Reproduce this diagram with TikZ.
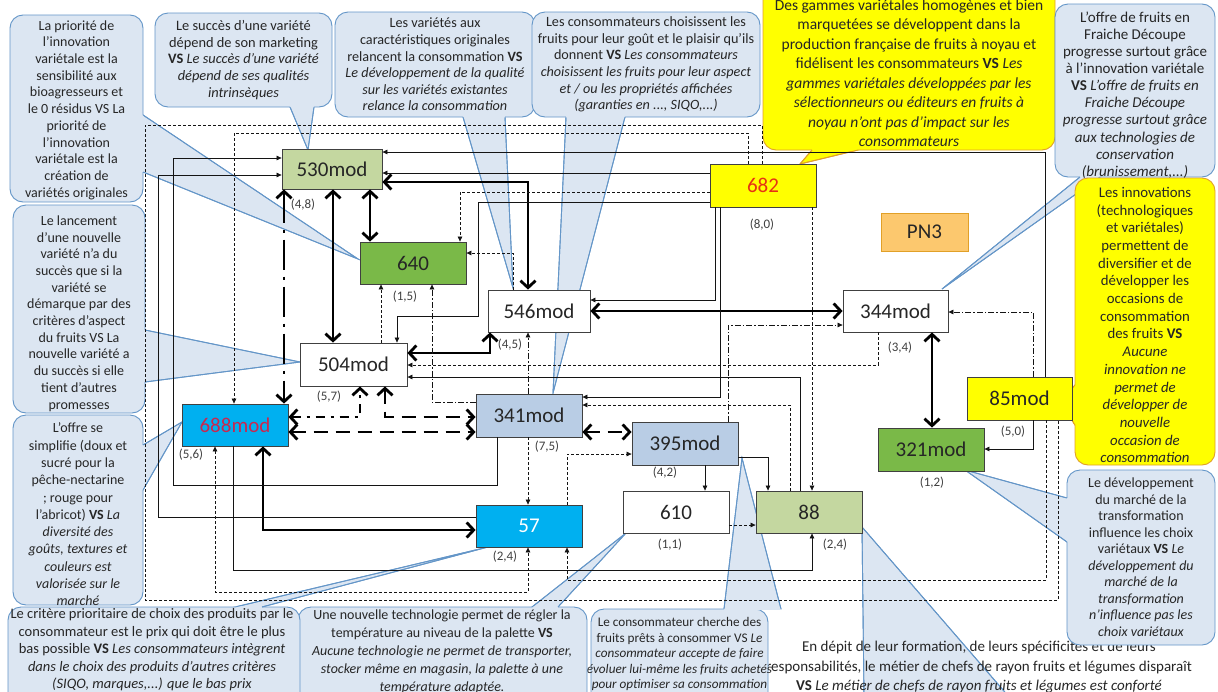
\documentclass[tikz,border=0pt]{standalone}
\usepackage{fontspec}
\setmainfont{Carlito}
\usetikzlibrary{arrows.meta}
\definecolor{cfill}{RGB}{220,230,242}
\definecolor{cline}{RGB}{100,150,200}
\definecolor{yfill}{RGB}{255,255,0}
\definecolor{yline}{RGB}{225,160,40}
\definecolor{lgreen}{RGB}{196,215,160}
\definecolor{dgreen}{RGB}{122,185,72}
\definecolor{cyanb}{RGB}{0,176,240}
\definecolor{lblue}{RGB}{185,205,229}
\definecolor{pnfill}{RGB}{252,200,110}
\definecolor{txt}{RGB}{38,38,38}
\definecolor{lab}{RGB}{64,64,64}
\definecolor{lnc}{RGB}{20,20,20}
\definecolor{crim}{RGB}{200,40,80}
\definecolor{redtxt}{RGB}{230,50,20}
\newcommand\fsz[2]{\fontsize{#1pt}{#2pt}\selectfont}
\tikzset{
  cbl/.style={fill=cfill,draw=cline,line width=0.9pt},
  cyl/.style={fill=yfill,draw=yline,line width=0.9pt},
  ctext/.style={align=center,text=txt,inner sep=0pt},
  box/.style={draw=black!75,line width=0.8pt,minimum width=106pt,minimum height=42pt,
    inner sep=0pt,font=\fsz{21}{24},text=txt},
  lbl/.style={text=lab,font=\fsz{13}{15},inner sep=0pt},
  thin/.style={draw=lnc,line width=0.75pt},
  tarr/.style={-{Triangle[length=5pt,width=4.5pt]}},
  tarr2/.style={{Triangle[length=5pt,width=4.5pt]}-{Triangle[length=5pt,width=4.5pt]}},
  dsh/.style={dash pattern=on 3pt off 2pt},
  dsd/.style={dash pattern=on 6pt off 2pt on 1.5pt off 2pt},
  thk/.style={draw=black,line width=2.8pt,
    {Straight Barb[length=7pt,width=15pt]}-{Straight Barb[length=7pt,width=15pt]}},
}
% callout boxes: style, box corners (x1,y1) (x2,y2), wedge base from #6 to #7, wedge tip (#8,#9)
\newcommand\coB[9]{%
  \fill[#1] (#6,#5) -- (#8,#9) -- (#7,#5) -- cycle;
  \draw[#1,rounded corners=13pt] (#2,#3) rectangle (#4,#5);
  \fill[#1,draw=none] (#6,#5-1) rectangle (#7,#5+0.6);
  \draw[#1,fill=none] (#6,#5) -- (#8,#9) -- (#7,#5);}
\newcommand\coT[9]{%
  \fill[#1] (#6,#3) -- (#8,#9) -- (#7,#3) -- cycle;
  \draw[#1,rounded corners=13pt] (#2,#3) rectangle (#4,#5);
  \fill[#1,draw=none] (#6,#3-0.6) rectangle (#7,#3+1);
  \draw[#1,fill=none] (#6,#3) -- (#8,#9) -- (#7,#3);}
\newcommand\coL[9]{%
  \fill[#1] (#2,#6) -- (#8,#9) -- (#2,#7) -- cycle;
  \draw[#1,rounded corners=13pt] (#2,#3) rectangle (#4,#5);
  \fill[#1,draw=none] (#2-0.6,#6) rectangle (#2+1,#7);
  \draw[#1,fill=none] (#2,#6) -- (#8,#9) -- (#2,#7);}
\newcommand\coR[9]{%
  \fill[#1] (#4,#6) -- (#8,#9) -- (#4,#7) -- cycle;
  \draw[#1,rounded corners=13pt] (#2,#3) rectangle (#4,#5);
  \fill[#1,draw=none] (#4-1,#6) rectangle (#4+0.6,#7);
  \draw[#1,fill=none] (#4,#6) -- (#8,#9) -- (#4,#7);}
\begin{document}
\begin{tikzpicture}[x=1pt,y=-1pt]
\useasboundingbox (0,0) rectangle (1218,691);
\begin{scope}
\clip (0,0) rectangle (1218,691);
\fill[white] (0,0) rectangle (1218,691);

% ---------- callouts ----------
% the box of this one sits below the page; only its pointer and text show
\coT{cbl}{700}{698}{1240}{760}{864}{1010}{862}{527}
\node[ctext,font=\fsz{15}{19.5}] (t9) at (979,667.5) {En dépit de leur formation, de leurs spécificités et de leurs\\
responsabilités, le métier de chefs de rayon fruits et légumes disparaît\\
\textbf{VS} \textit{Le métier de chefs de rayon fruits et légumes est conforté}};

\coR{cbl}{10}{15}{143}{202}{115}{172}{358}{259}
\node[ctext,font=\fsz{14}{16.7}] (t1) at (76.5,110) {La priorité de\\l'innovation\\variétale est la\\sensibilité aux\\bioagresseurs et\\le 0 résidus VS La\\priorité de\\l'innovation\\variétale est la\\création de\\variétés originales};

\coB{cbl}{155}{13}{332}{107}{290}{314}{308}{150}
\node[ctext,font=\fsz{14.4}{16.6}] (t2) at (243.5,60) {Le succès d'une variété\\dépend de son marketing\\\textbf{VS} \textit{Le succès d'une variété}\\\textit{dépend de ses qualités}\\\textit{intrinsèques}};

\coB{cbl}{335}{12}{535}{117}{463}{505}{513}{288}
\node[ctext,font=\fsz{14.2}{16.6}] (t3) at (435,64.5) {Les variétés aux\\caractéristiques originales\\relancent la consommation \textbf{VS}\\\textit{Le développement de la qualité}\\\textit{sur les  variétés existantes}\\\textit{relance la consommation}};

\coB{cbl}{532}{12}{760}{117}{566}{625}{553}{393}
\node[ctext,font=\fsz{14.2}{16.6}] (t4) at (646,64.5) {Les consommateurs choisissent les\\fruits pour leur goût et le plaisir qu'ils\\donnent \textbf{VS} \textit{Les consommateurs}\\\textit{choisissent les fruits pour leur aspect}\\\textit{et / ou les propriétés affichées}\\\textit{(garanties en ..., SIQO,...)}};

\coB{cyl}{763}{-15}{1055}{150}{812}{858}{800}{164}
\node[ctext,font=\fsz{15.5}{19.5}] (t5) at (909,73) {Des gammes variétales homogènes et bien\\marquetées  se développent dans la\\production  française de fruits à noyau et\\fidélisent les consommateurs \textbf{VS} \textit{Les}\\\textit{gammes variétales développées par les}\\\textit{sélectionneurs ou éditeurs en fruits à}\\\textit{noyau n'ont pas d'impact sur les}\\\textit{consommateurs}};

\coB{cbl}{1055}{4}{1215}{177}{1080}{1100}{942}{289}
\node[ctext,font=\fsz{15}{17.1}] (t6) at (1135,95) {L'offre de fruits en\\Fraiche Découpe\\progresse surtout grâce\\à l'innovation variétale\\\textbf{VS} \textit{L'offre de fruits en}\\\textit{Fraiche Découpe}\\\textit{progresse surtout grâce}\\\textit{aux technologies de}\\\textit{conservation}\\\textit{(brunissement,...)}};

\coL{cyl}{1075}{178}{1215}{465}{385}{425}{1060}{402}
\node[ctext,font=\fsz{14.8}{17.7}] (t7) at (1145,325) {Les innovations\\(technologiques\\et variétales)\\permettent  de\\diversifier et de\\développer  les\\occasions de\\consommation\\des fruits \textbf{VS}\\\textit{Aucune}\\\textit{innovation ne}\\\textit{permet de}\\\textit{développer de}\\\textit{nouvelle}\\\textit{occasion de}\\\textit{consommation}};

\coL{cbl}{1067}{470}{1215}{645}{498}{542}{965}{470}
\node[ctext,font=\fsz{14}{16.5}] (t8) at (1141,557) {Le développement\\du marché de la\\transformation\\influence les choix\\variétaux \textbf{VS} \textit{Le}\\\textit{développement du}\\\textit{marché de la}\\\textit{transformation}\\\textit{n'influence pas les}\\\textit{choix variétaux}};

\coT{cbl}{591}{609}{768}{720}{724}{781}{742}{458}
\node[ctext,font=\fsz{13.2}{15.5}] (t10) at (679.5,654) {Le consommateur cherche des\\fruits prêts à consommer VS \textit{Le}\\\textit{consommateur accepte de faire}\\\textit{évoluer lui-même les fruits achetés}\\\textit{pour optimiser sa consommation}};

\coT{cbl}{298}{607}{587}{710}{532}{558}{626}{533}
\node[ctext,font=\fsz{14}{18}] (t11) at (442,652) {Une nouvelle technologie permet de régler la\\température au niveau de la palette \textbf{VS}\\\textit{Aucune technologie ne permet de transporter,}\\\textit{stocker même en magasin, la palette à une}\\\textit{température adaptée.}};

\coT{cbl}{8}{607}{300}{710}{235}{262}{488}{547}
\node[ctext,font=\fsz{14.5}{17.5}] (t12) at (152,650) {Le critère prioritaire de choix des produits par le\\consommateur est le prix qui doit être le plus\\bas possible \textbf{VS} \textit{Les consommateurs intègrent}\\\textit{dans le choix des produits d’autres critères}\\\textit{(SIQO, marques,...) que le bas prix}};

\coR{cbl}{13}{415}{143}{605}{445}{490}{182}{422}
\node[ctext,font=\fsz{14}{17.3}] (t13) at (78,514.5) {L'offre se\\simplifie (doux et\\sucré pour la\\pêche-nectarine\\; rouge pour\\l'abricot) \textbf{VS} \textit{La}\\\textit{diversité des}\\\textit{goûts, textures et}\\\textit{couleurs est}\\\textit{valorisée sur le}\\\textit{marché}};

\coR{cbl}{13}{205}{145}{413}{330}{382}{300}{362}
\node[ctext,font=\fsz{14}{16.7}] (t14) at (79,313.5) {Le lancement\\d'une nouvelle\\variété n'a du\\succès que si la\\variété se\\démarque par des\\critères d'aspect\\du fruits VS La\\nouvelle variété a\\du succès si elle\\tient d'autres\\promesses};

% ---------- nodes ----------
\node[box,fill=lgreen,minimum width=100pt,minimum height=40pt] (n530) at (332,169) {530mod};
\node[box,fill=dgreen] (n640) at (413,263) {640};
\node[box,fill=white,minimum width=102pt] (n546) at (539,311) {546mod};
\node[box,fill=white,minimum width=107pt,minimum height=43pt] (n504) at (353.5,364.5) {504mod};
\node[box,fill=cyanb,text=crim] (n688) at (235,425) {688mod};
\node[box,fill=lblue,minimum height=43pt] (n341) at (529,415.5) {341mod};
\node[box,fill=lblue,minimum height=43pt] (n395) at (685,443.5) {395mod};
\node[box,fill=white] (n610) at (676,512) {610};
\node[box,fill=lgreen] (n88) at (809,512) {88};
\node[box,fill=cyanb,text=white] (n57) at (529,526) {57};
\node[box,fill=yfill,text=redtxt,minimum height=43pt] (n682) at (763,185.5) {682};
\node[box,fill=pnfill,draw=yline,minimum width=87pt,minimum height=38pt] (npn) at (924.5,232) {PN3};
\node[box,fill=white,minimum width=105pt] (n344) at (895.5,311) {344mod};
\node[box,fill=yfill,minimum width=105pt,minimum height=43pt] (n85) at (1019.5,398.5) {85mod};
\node[box,fill=dgreen,minimum height=43pt] (n321) at (931,449.5) {321mod};

% ---------- heavy links ----------
\draw[thk] (n530.east |- 0,182) -| (n546.north -| 528,0);
\draw[thk] (333,0 |- n530.south) -- (333,0 |- n504.north);
\draw[thk] (370,0 |- n530.south) -- (370,0 |- n640.north);
\draw[thk,dash pattern=on 30pt off 7pt on 3pt off 7pt] (284,0 |- n530.south) -- (284,0 |- n688.north);
\draw[thk] (n504.east |- 0,353) -| (490,0 |- n546.south);
\draw[thk] (n546.east) -- (n344.west);
\draw[thk] (932,0 |- n344.south) -- (932,0 |- n321.north);
\draw[thk] (263,0 |- n688.south) |- (n57.west |- 0,530);
\draw[thk,dash pattern=on 9pt off 6pt on 3pt off 6pt] (n688.east |- 0,417) -| (360,0 |- n504.south);
\draw[thk,dash pattern=on 14pt off 8pt] (385,0 |- n504.south) |- (n341.west |- 0,417);
\draw[thk,dash pattern=on 14pt off 8pt] (n688.east |- 0,432) -- (n341.west |- 0,432);
\draw[thk,dash pattern=on 14pt off 8pt] (n341.east |- 0,432) -- (n395.west |- 0,432);

% ---------- thin links ----------
\draw[thin,tarr] (n682.west |- 0,173) -- (n530.east |- 0,173);
\draw[thin,tarr] (1045,0 |- n85.north) |- (n530.east |- 0,152);
\draw[thin,tarr,dsh] (n682.west |- 0,192) -| (460,0 |- n640.north);
\draw[thin,tarr] (n682.west |- 0,202) -| (478,316) -| (397,0 |- n504.north);
\draw[thin,tarr,dsh] (513,0 |- n546.north) |- (n640.east |- 0,253);
\draw[thin,tarr,dsh] (381,0 |- n504.north) -- (381,0 |- n640.south);
\draw[thin,tarr,dsd] (n341.west |- 0,402) -| (432,0 |- n640.south);
\draw[thin,tarr,dsd] (528,0 |- n341.north) -- (528,0 |- n546.south);
\draw[thin,tarr,dsh] (528,0 |- n341.south) -- (528,0 |- n57.north);
\draw[thin,tarr,dsh] (567,0 |- n57.north) |- (n395.west |- 0,454);
\draw[thin,tarr] (715,0 |- n682.south) |- (n546.east |- 0,300);
\draw[thin,tarr] (720,0 |- n682.south) |- (n341.east |- 0,397);
\draw[thin,tarr,dsh] (790,0 |- n88.north) |- (n341.east |- 0,405);
\draw[thin,tarr,dsh] (812,0 |- n682.south) -- (812,0 |- n88.north);
\draw[thin,tarr] (n395.east |- 0,457) -| (768,0 |- n88.north);
\draw[thin,tarr] (705,0 |- n395.south) -- (705,0 |- n610.north);
\draw[thin,tarr,dsh] (n610.east |- 0,525) -- (n88.west |- 0,525);
\draw[thin,tarr,dsd] (728,0 |- n395.north) |- (n344.west |- 0,325);
\draw[thin,tarr,dsh] (878,0 |- n344.south) |- (n504.east |- 0,365);
\draw[thin,tarr] (800,0 |- n88.north) |- (n504.east |- 0,377);
\draw[thin,tarr,dsd] (1033,0 |- n85.north) |- (n344.east |- 0,312);
\draw[thin,tarr] (1033,0 |- n85.south) |- (n321.east |- 0,449);
\draw[thin,tarr] (497,0 |- n341.south) |- (173,485) |- (n530.west |- 0,158);
\draw[thin,tarr] (n57.west |- 0,517) -| (158,175) -- (n530.west |- 0,175);
\draw[thin,tarr] (233,0 |- n688.south) |- (812,570) -- (812,0 |- n88.south);
\draw[thin,tarr2,dsh] (215,0 |- n688.south) |- (528,592) -- (528,0 |- n57.south);
\draw[thin,dsh] (762,0 |- n682.north) |- (145,125) |- (1058,600) -- (1058,0 |- n85.south);
\draw[thin,tarr,dsh] (748,0 |- n682.north) |- (234,133) -- (234,0 |- n688.north);
\draw[thin,tarr,dsh] (1046,0 |- n85.south) |- (567,580) -- (567,0 |- n57.south);

% ---------- pair labels ----------
\node[lbl] (l530) at (303,205) {(4,8)};
\node[lbl] (l640) at (405,297) {(1,5)};
\node[lbl] (l546) at (510,345) {(4,5)};
\node[lbl] (l504) at (329,397) {(5,7)};
\node[lbl] (l341) at (547,447) {(7,5)};
\node[lbl] (l395) at (665,473) {(4,2)};
\node[lbl] (l610) at (670,545) {(1,1)};
\node[lbl] (l88) at (835,545) {(2,4)};
\node[lbl] (l57) at (505,557) {(2,4)};
\node[lbl] (l688) at (191,455) {(5,6)};
\node[lbl] (l682) at (762,225) {(8,0)};
\node[lbl] (l344) at (900,348) {(3,4)};
\node[lbl] (l85) at (1013,432) {(5,0)};
\node[lbl] (l321) at (932,483) {(1,2)};
\end{scope}
\end{tikzpicture}
\end{document}
